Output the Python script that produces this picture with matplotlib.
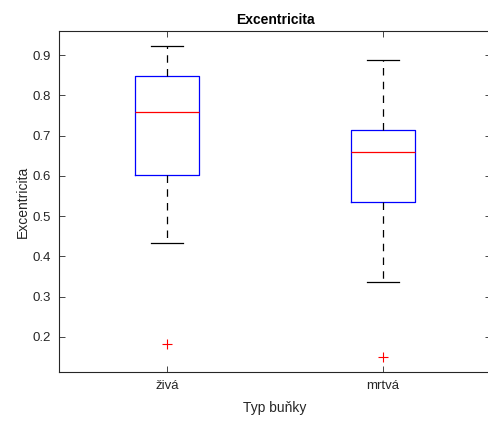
import matplotlib
matplotlib.use("Agg")
import matplotlib.pyplot as plt

# data
categories = ['živá', 'mrtvá']
medians = [0.759, 0.659]
q1 = [0.603, 0.535]
q3 = [0.848, 0.714]
whisk_lo = [0.434, 0.336]
whisk_hi = [0.922, 0.888]
outliers = [[0.183], [0.151]]

plt.rcParams['font.family'] = ['Liberation Sans', 'DejaVu Sans']
axcol = '#262626'

stats = []
for i in range(len(categories)):
    stats.append({'med': medians[i], 'q1': q1[i], 'q3': q3[i],
                  'whislo': whisk_lo[i], 'whishi': whisk_hi[i],
                  'fliers': outliers[i], 'label': categories[i]})

fig = plt.figure(figsize=(4.89, 4.21), dpi=100)
ax = fig.add_axes([59 / 489, 49 / 421, 432 / 489, 341 / 421])

ax.bxp(stats, positions=[1, 2], widths=0.3, capwidths=0.15,
       boxprops=dict(color='blue', linewidth=0.9),
       medianprops=dict(color='red', linewidth=0.9),
       whiskerprops=dict(color='black', linestyle=(0, (6, 5)), linewidth=0.9),
       capprops=dict(color='black', linewidth=0.9),
       flierprops=dict(marker='+', markeredgecolor='red', markersize=7,
                       markeredgewidth=0.8, linestyle='none'))

ax.set_xlim(0.5, 2.5)
ax.set_ylim(0.113, 0.96)
ax.set_yticks([0.2, 0.3, 0.4, 0.5, 0.6, 0.7, 0.8, 0.9])
ax.set_xticks([1, 2])
ax.set_xticklabels(categories)

for sp in ax.spines.values():
    sp.set_color(axcol)
    sp.set_linewidth(0.8)
ax.tick_params(direction='in', length=4, width=0.6, colors=axcol,
               labelsize=9.5, top=True, right=True, labelcolor=axcol, pad=6)

ax.set_title('Excentricita', fontsize=10, fontweight='bold', color='black', pad=5)
ax.set_xlabel('Typ buňky', fontsize=10, color=axcol, labelpad=6)
ax.set_ylabel('Excentricita', fontsize=10, color=axcol, labelpad=2)

fig.savefig('out.png', dpi=100)
